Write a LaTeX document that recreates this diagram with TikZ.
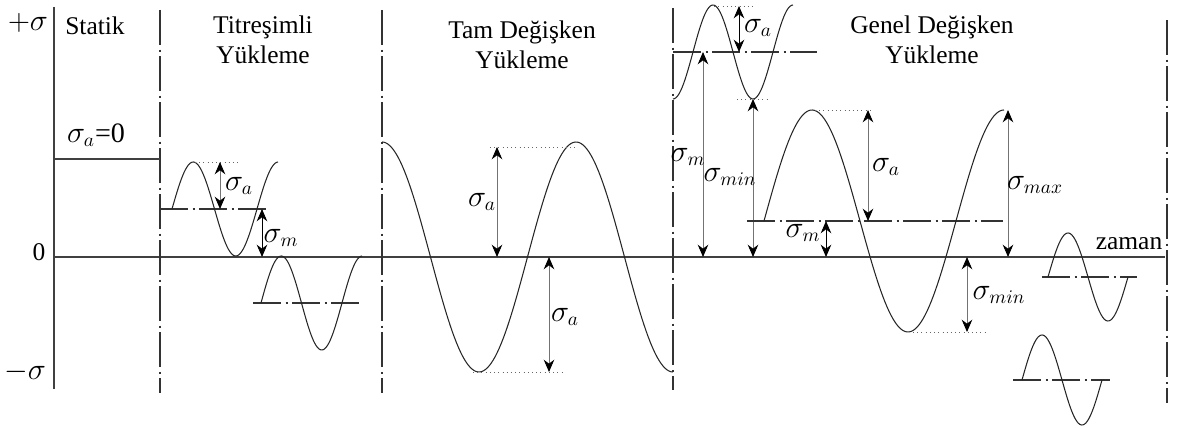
\documentclass[tikz,border=0pt]{standalone}
\usepackage{fontspec}
\setmainfont{Liberation Serif}
\usetikzlibrary{arrows.meta}

\begin{document}
\begin{tikzpicture}[
    x=0.02cm, y=-0.02cm,
    axis/.style={draw=black!75, line width=1pt},
    divider/.style={draw=black!80, line width=0.6pt, dash pattern=on 20pt off 2.5pt on 1.2pt off 2.5pt},
    meanline/.style={draw=black!80, line width=0.6pt, dash pattern=on 16pt off 2.5pt on 1.2pt off 2.5pt},
    wave/.style={draw=black!85, line width=0.6pt},
    guide/.style={draw=black!60, line width=0.4pt, dotted},
    dim/.style={<->, >={Stealth[length=7pt, width=6pt, color=black]}, draw=black!55, line width=0.5pt},
    title/.style={align=center, font=\fontsize{14.5}{17}\selectfont},
    lbl/.style={font=\fontsize{16}{18}\selectfont, inner sep=1pt}
]
    \useasboundingbox (0,0) rectangle (1181,428);

    % Axes and dividers
    \draw[axis] (54,7) -- (54,389);
    \draw[axis] (54,257) -- (1165,257);
    \draw[divider] (160,10) -- (160,393);
    \draw[divider] (382,10) -- (382,393);
    \draw[divider] (673,8) -- (673,390);
    \draw[divider] (1167,20) -- (1167,403);

    % Titles
    \node[lbl] (plus) at (28,23) {$+\sigma$};
    \node[title] (zero) at (39,252) {0};
    \node[lbl] (minus) at (25,372) {$-\sigma$};
    \node[title] (statik) at (95,26) {Statik};
    \node[title] (titresimli) at (263,40) {Titreşimli\\Yükleme};
    \node[title] (tam) at (522,45) {Tam Değişken\\Yükleme};
    \node[title] (genel) at (932,40) {Genel Değişken\\Yükleme};
    \node[title] (zaman) at (1129,244) {zaman};

    % Statik
    \draw[axis, line width=0.8pt] (54,159) -- (160,159);
    \node[lbl] (sa0) at (96,135) {$\sigma_a$=0};

    % Titresimli
    \draw[meanline] (160,209) -- (267,209);
    \draw[wave] plot[domain=172:278, samples=80] (\x,{209-47*sin((\x-172)/85*360)});
    \draw[guide] (195,162) -- (238,162);
    \coordinate (tiTop) at (220,162);
    \coordinate (tiMid) at (220,209);
    \coordinate (tiMean) at (262,209);
    \coordinate (tiZero) at (262,257);
    \draw[dim] (tiTop) -- (tiMid);
    \draw[dim, draw=black] (tiMean) -- (tiZero);
    \node[lbl] (tiA) at (239,186) {$\sigma_a$};
    \node[lbl] (tiM) at (281,238) {$\sigma_m$};
    \draw[meanline] (253,303) -- (359,303);
    \draw[wave] plot[domain=261:362, samples=80] (\x,{303-47*sin((\x-261)/81*360)});

    % Tam degisken
    \draw[wave] plot[domain=382:673, samples=150] (\x,{257-115*cos((\x-382)/194*360)});
    \draw[guide] (490,147) -- (578,147);
    \draw[guide] (473,372) -- (563,372);
    \coordinate (taTop) at (497,147);
    \coordinate (taZero1) at (497,257);
    \coordinate (taZero2) at (549,257);
    \coordinate (taBot) at (549,372);
    \draw[dim] (taTop) -- (taZero1);
    \draw[dim] (taZero2) -- (taBot);
    \node[lbl] (taA1) at (482,202) {$\sigma_a$};
    \node[lbl] (taA2) at (565,317) {$\sigma_a$};

    % Genel degisken, upper wave
    \draw[meanline] (673,52) -- (817,52);
    \draw[wave] plot[domain=673:793, samples=80] (\x,{52+47*cos((\x-673)/80*360)});
    \draw[guide] (710,6) -- (755,6);
    \draw[guide] (737,99) -- (770,99);
    \coordinate (geTop) at (739,6);
    \coordinate (geMid) at (739,52);
    \coordinate (geMean) at (703,52);
    \coordinate (geZero1) at (703,257);
    \coordinate (geLow) at (753,99);
    \coordinate (geZero2) at (753,257);
    \draw[dim, draw=black] (geTop) -- (geMid);
    \draw[dim] (geMean) -- (geZero1);
    \draw[dim] (geLow) -- (geZero2);
    \node[lbl] (geA) at (758,28) {$\sigma_a$};
    \node[lbl] (geM) at (688,157) {$\sigma_m$};
    \node[lbl] (geMin) at (730,177) {$\sigma_{min}$};

    % Genel degisken, large wave
    \draw[meanline] (747,221) -- (1003,221);
    \draw[wave] plot[domain=764:1004, samples=120] (\x,{221-111*sin((\x-764)/192*360)});
    \draw[guide] (815,110) -- (870,110);
    \draw[guide] (913,332) -- (985,332);
    \coordinate (bgTop) at (868,110);
    \coordinate (bgMean) at (868,221);
    \coordinate (bgM1) at (826,221);
    \coordinate (bgM2) at (826,257);
    \coordinate (bgMax1) at (1008,110);
    \coordinate (bgMax2) at (1008,257);
    \coordinate (bgMin1) at (967,257);
    \coordinate (bgMin2) at (967,332);
    \draw[dim] (bgTop) -- (bgMean);
    \draw[dim, draw=black] (bgM1) -- (bgM2);
    \draw[dim] (bgMax1) -- (bgMax2);
    \draw[dim] (bgMin1) -- (bgMin2);
    \node[lbl] (bgA) at (886,167) {$\sigma_a$};
    \node[lbl] (bgM) at (803,233) {$\sigma_m$};
    \node[lbl] (bgMax) at (1035,185) {$\sigma_{max}$};
    \node[lbl] (bgMin) at (999,295) {$\sigma_{min}$};

    % Small waves
    \draw[meanline] (1042,277) -- (1137,277);
    \draw[wave] plot[domain=1048:1128, samples=80] (\x,{277-44*sin((\x-1048)/80*360)});
    \draw[meanline] (1013,380) -- (1110,380);
    \draw[wave] plot[domain=1022:1102, samples=80] (\x,{380-45*sin((\x-1022)/80*360)});
\end{tikzpicture}
\end{document}
